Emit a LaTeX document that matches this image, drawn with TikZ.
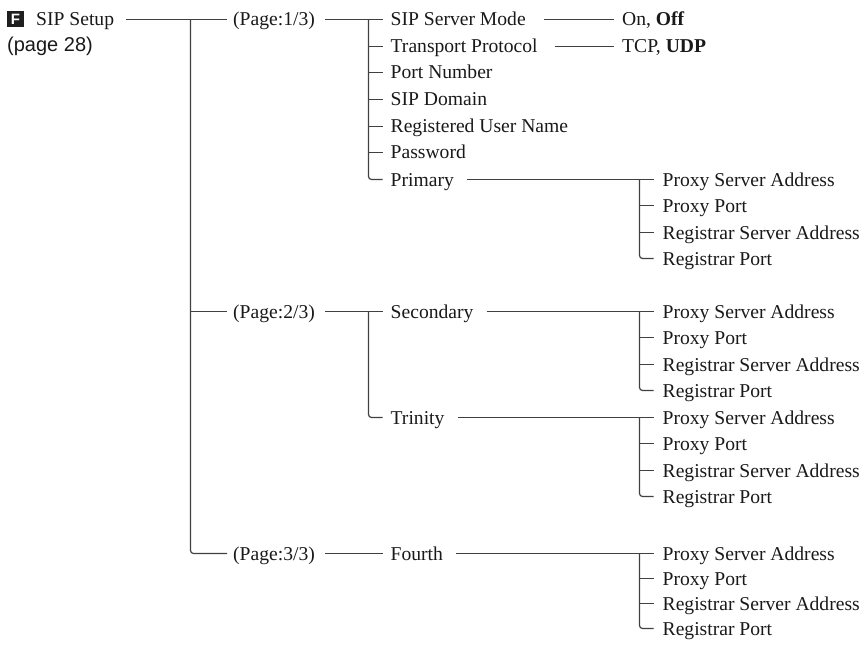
\documentclass[tikz,border=0pt]{standalone}
\usepackage{fontspec}
\setmainfont{Liberation Serif}
\newfontfamily\sansf{Liberation Sans}
\usetikzlibrary{calc}
% #1 group prefix, #2 parent node, #3-#6 row y values
\newcommand{\regset}[6]{%
  \node[txt] (#1A) at (662.5,#3) {Proxy Server Address};
  \node[txt] (#1B) at (662.5,#4) {Proxy Port};
  \node[txt] (#1C) at (662.5,#5) {Registrar Server Address};
  \node[txt] (#1D) at (662.5,#6) {Registrar Port};
  \draw[conn] ([xshift=13pt]#2.east) -- ([xshift=-9pt]#1A.west);
  \coordinate (#1V) at ([xshift=-23pt]#1A.west);
  \draw[conn] (#1V) |- ([xshift=-9pt]#1D.west);
  \draw[conn] (#1V |- #1B.west) -- ([xshift=-9pt]#1B.west);
  \draw[conn] (#1V |- #1C.west) -- ([xshift=-9pt]#1C.west);
}
\begin{document}
\begin{tikzpicture}[x=1pt,y=-1pt,
  txt/.style={inner sep=0pt, text height=13pt, text depth=0pt, anchor=west,
    font=\fontsize{19.6}{22}\selectfont, text=black!90},
  conn/.style={draw=black!75, line width=1.2pt, rounded corners=3pt}]
\useasboundingbox (0,0) rectangle (864,647);

% root
\node[fill=black!88, text=white, font=\sansf\bfseries\fontsize{15}{15}\selectfont,
  minimum width=17pt, minimum height=16pt, inner sep=0pt] (fbox) at (15.5,19.5) {F};
\node[txt] (root) at (36,19.5) {SIP Setup};
\node[anchor=base west, inner sep=0pt, font=\sansf\fontsize{20}{24}\selectfont, text=black!90]
  (pref) at (7,52) {(page 28)};

% pages
\node[txt] (p1) at (233,19.5) {(Page:1/3)};
\node[txt] (p2) at (233,311.5) {(Page:2/3)};
\node[txt] (p3) at (233,553.5) {(Page:3/3)};
\draw[conn] ([xshift=12pt]root.east) -- ([xshift=-6pt]p1.west);
\coordinate (trunk) at (190.5,19.5);
\draw[conn] (trunk) |- ([xshift=-6pt]p3.west);
\draw[conn] (trunk |- p2.west) -- ([xshift=-6pt]p2.west);

% page 1 items
\node[txt] (ssm) at (390.5,19.5) {SIP Server Mode};
\node[txt] (tp)  at (390.5,46.5) {Transport Protocol};
\node[txt] (pn)  at (390.5,72.5) {Port Number};
\node[txt] (sd)  at (390.5,99.5) {SIP Domain};
\node[txt] (run) at (390.5,126.5) {Registered User Name};
\node[txt] (pw)  at (390.5,152.5) {Password};
\node[txt] (pri) at (390.5,179.5) {Primary};
\draw[conn] ([xshift=10pt]p1.east) -- ([xshift=-8pt]ssm.west);
\coordinate (v1) at ([xshift=-22pt]ssm.west);
\draw[conn] (v1) |- ([xshift=-8pt]pri.west);
\foreach \n in {tp,pn,sd,run,pw}
  \draw[conn] (v1 |- \n.west) -- ([xshift=-8pt]\n.west);

\node[txt] (ssmv) at (622,19.5) {On, \textbf{Off}};
\node[txt] (tpv)  at (622,46.5) {TCP, \textbf{UDP}};
\draw[conn] ([xshift=18pt]ssm.east) -- ([xshift=-8pt]ssmv.west);
\draw[conn] ([xshift=17pt]tp.east) -- ([xshift=-8pt]tpv.west);

% page 2 items
\node[txt] (sec) at (390.5,311.5) {Secondary};
\node[txt] (tri) at (390.5,417.5) {Trinity};
\draw[conn] ([xshift=10pt]p2.east) -- ([xshift=-8pt]sec.west);
\coordinate (v2) at ([xshift=-22pt]sec.west);
\draw[conn] (v2) |- ([xshift=-8pt]tri.west);

% page 3 items
\node[txt] (fou) at (390.5,553.5) {Fourth};
\draw[conn] ([xshift=10pt]p3.east) -- ([xshift=-8pt]fou.west);

\regset{grpone}{pri}{179.5}{205.5}{232.5}{258.5}
\regset{grptwo}{sec}{311.5}{337.5}{364.5}{390.5}
\regset{grpthree}{tri}{417.5}{443.5}{470.5}{496.5}
\regset{grpfour}{fou}{553.5}{578.5}{603.5}{628.5}
\end{tikzpicture}
\end{document}
